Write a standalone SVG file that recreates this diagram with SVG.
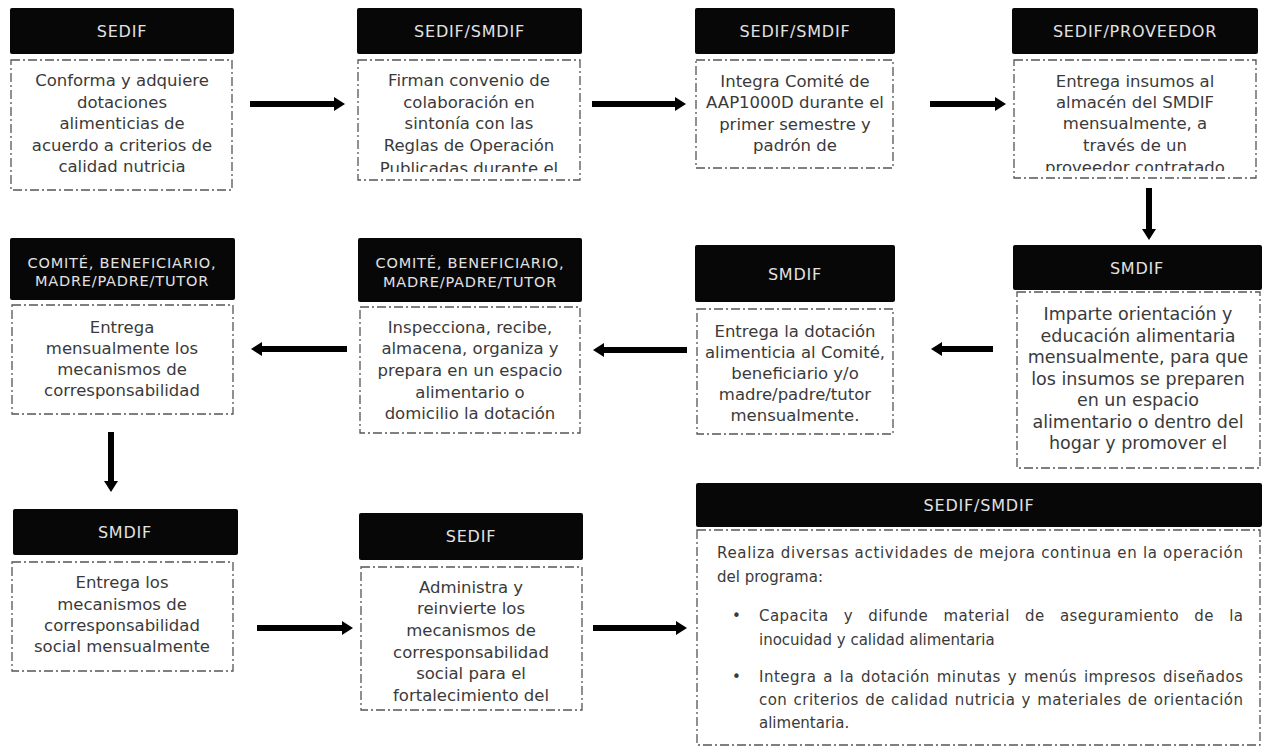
<svg xmlns="http://www.w3.org/2000/svg" width="1262" height="749" viewBox="0 0 1262 749">
<style>
.hd{fill:#070707}
.ht{fill:#e2e2e2;font-family:"DejaVu Sans",sans-serif;font-size:16px;letter-spacing:0.8px;text-anchor:middle}
.hs{fill:#e2e2e2;font-family:"DejaVu Sans",sans-serif;font-size:14.5px;letter-spacing:0.8px;text-anchor:middle}
.bd{fill:#ffffff;stroke:#555;stroke-width:1.3;stroke-dasharray:9 3 2 3}
.tx{fill:#3a3a3a;font-family:"DejaVu Sans",sans-serif;font-size:16.5px;text-anchor:middle}
.tb{fill:#3a3a3a;font-family:"DejaVu Sans",sans-serif;font-size:17.5px;text-anchor:middle}
.tl{fill:#3a3a3a;font-family:"DejaVu Sans",sans-serif;font-size:15px}
.ar{stroke:#000;stroke-width:6;fill:none}
</style>
<defs>
<marker id="ah" markerUnits="userSpaceOnUse" markerWidth="11" markerHeight="14" viewBox="0 0 11 14" refX="1" refY="7" orient="auto">
<path d="M0,0 L11,7 L0,14 Z" fill="#000"/>
</marker>
<clipPath id="c2"><rect x="358" y="60" width="222" height="112"/></clipPath>
<clipPath id="c4"><rect x="1014" y="60" width="242" height="111"/></clipPath>
</defs>
<rect width="1262" height="749" fill="#ffffff"/>

<g id="connectors">
<line class="ar" x1="250" y1="104" x2="335" y2="104" marker-end="url(#ah)"/>
<line class="ar" x1="592" y1="104" x2="676" y2="104" marker-end="url(#ah)"/>
<line class="ar" x1="930" y1="104" x2="996" y2="104" marker-end="url(#ah)"/>
<line class="ar" x1="1149" y1="188" x2="1149" y2="230" marker-end="url(#ah)"/>
<line class="ar" x1="993" y1="349" x2="941" y2="349" marker-end="url(#ah)"/>
<line class="ar" x1="687" y1="350" x2="603" y2="350" marker-end="url(#ah)"/>
<line class="ar" x1="347" y1="349" x2="261" y2="349" marker-end="url(#ah)"/>
<line class="ar" x1="111" y1="432" x2="111" y2="482" marker-end="url(#ah)"/>
<line class="ar" x1="257" y1="628" x2="343" y2="628" marker-end="url(#ah)"/>
<line class="ar" x1="593" y1="628" x2="677" y2="628" marker-end="url(#ah)"/>
</g>

<g id="n1">
<rect class="hd" x="10" y="8" width="224" height="46" rx="2"/>
<text class="ht" x="122" y="37">SEDIF</text>
<rect class="bd" x="11" y="60" width="221" height="130"/>
<text class="tx" x="122" y="86">Conforma y adquiere</text>
<text class="tx" x="122" y="108">dotaciones</text>
<text class="tx" x="122" y="129">alimenticias de</text>
<text class="tx" x="122" y="151">acuerdo a criterios de</text>
<text class="tx" x="122" y="172">calidad nutricia</text>
</g>

<g id="n2">
<rect class="hd" x="357" y="8" width="225" height="46" rx="2"/>
<text class="ht" x="469.5" y="37">SEDIF/SMDIF</text>
<rect class="bd" x="358" y="60" width="222" height="120"/>
<text class="tx" x="469" y="86">Firman convenio de</text>
<text class="tx" x="469" y="108">colaboración en</text>
<text class="tx" x="469" y="129">sintonía con las</text>
<text class="tx" x="469" y="151">Reglas de Operación</text>
<text class="tx" x="469" y="174" clip-path="url(#c2)">Publicadas durante el</text>
</g>

<g id="n3">
<rect class="hd" x="695" y="8" width="200" height="46" rx="2"/>
<text class="ht" x="795" y="37">SEDIF/SMDIF</text>
<rect class="bd" x="696" y="60" width="197" height="108"/>
<text class="tx" x="795" y="87">Integra Comité de</text>
<text class="tx" x="795" y="108">AAP1000D durante el</text>
<text class="tx" x="795" y="130">primer semestre y</text>
<text class="tx" x="795" y="151">padrón de</text>
</g>

<g id="n4">
<rect class="hd" x="1012" y="8" width="246" height="46" rx="2"/>
<text class="ht" x="1135" y="37">SEDIF/PROVEEDOR</text>
<rect class="bd" x="1014" y="60" width="242" height="118"/>
<text class="tx" x="1135" y="87">Entrega insumos al</text>
<text class="tx" x="1135" y="108">almacén del SMDIF</text>
<text class="tx" x="1135" y="129">mensualmente, a</text>
<text class="tx" x="1135" y="151">través de un</text>
<text class="tx" x="1135" y="173" clip-path="url(#c4)">proveedor contratado</text>
</g>

<g id="n5">
<rect class="hd" x="1013" y="245" width="249" height="45" rx="2"/>
<text class="ht" x="1137" y="274">SMDIF</text>
<rect class="bd" x="1017" y="292" width="243" height="176"/>
<text class="tb" x="1138" y="320">Imparte orientación y</text>
<text class="tb" x="1138" y="341.5">educación alimentaria</text>
<text class="tb" x="1138" y="363">mensualmente, para que</text>
<text class="tb" x="1138" y="384.5">los insumos se preparen</text>
<text class="tb" x="1138" y="406">en un espacio</text>
<text class="tb" x="1138" y="427.5">alimentario o dentro del</text>
<text class="tb" x="1138" y="449">hogar y promover el</text>
</g>

<g id="n6">
<rect class="hd" x="695" y="245" width="200" height="57" rx="2"/>
<text class="ht" x="795" y="280">SMDIF</text>
<rect class="bd" x="697" y="309" width="196" height="125"/>
<text class="tx" x="795" y="337">Entrega la dotación</text>
<text class="tx" x="795" y="358">alimenticia al Comité,</text>
<text class="tx" x="795" y="379">beneficiario y/o</text>
<text class="tx" x="795" y="400">madre/padre/tutor</text>
<text class="tx" x="795" y="421">mensualmente.</text>
</g>

<g id="n7">
<rect class="hd" x="358" y="238" width="224" height="64" rx="2"/>
<text class="hs" x="470" y="268">COMITÉ, BENEFICIARIO,</text>
<text class="hs" x="470" y="287">MADRE/PADRE/TUTOR</text>
<rect class="bd" x="360" y="307" width="220" height="126"/>
<text class="tx" x="470" y="333">Inspecciona, recibe,</text>
<text class="tx" x="470" y="354">almacena, organiza y</text>
<text class="tx" x="470" y="376">prepara en un espacio</text>
<text class="tx" x="470" y="398">alimentario o</text>
<text class="tx" x="470" y="419">domicilio la dotación</text>
</g>

<g id="n8">
<rect class="hd" x="10" y="238" width="225" height="62" rx="2"/>
<text class="hs" x="122" y="268">COMITÉ, BENEFICIARIO,</text>
<text class="hs" x="122" y="286">MADRE/PADRE/TUTOR</text>
<rect class="bd" x="12" y="305" width="221" height="109"/>
<text class="tx" x="122" y="333">Entrega</text>
<text class="tx" x="122" y="354">mensualmente los</text>
<text class="tx" x="122" y="375">mecanismos de</text>
<text class="tx" x="122" y="396">corresponsabilidad</text>
</g>

<g id="n9">
<rect class="hd" x="13" y="509" width="225" height="46" rx="2"/>
<text class="ht" x="125" y="538">SMDIF</text>
<rect class="bd" x="12" y="562" width="221" height="109"/>
<text class="tx" x="122" y="588">Entrega los</text>
<text class="tx" x="122" y="610">mecanismos de</text>
<text class="tx" x="122" y="631">corresponsabilidad</text>
<text class="tx" x="122" y="652">social mensualmente</text>
</g>

<g id="n10">
<rect class="hd" x="359" y="513" width="224" height="47" rx="2"/>
<text class="ht" x="471" y="542">SEDIF</text>
<rect class="bd" x="361" y="567" width="221" height="143"/>
<text class="tx" x="471" y="593">Administra y</text>
<text class="tx" x="471" y="614">reinvierte los</text>
<text class="tx" x="471" y="636">mecanismos de</text>
<text class="tx" x="471" y="658">corresponsabilidad</text>
<text class="tx" x="471" y="679">social para el</text>
<text class="tx" x="471" y="701">fortalecimiento del</text>
</g>

<g id="n11">
<rect class="hd" x="696" y="483" width="566" height="44" rx="2"/>
<text class="ht" x="979" y="511">SEDIF/SMDIF</text>
<rect class="bd" x="697" y="530" width="563" height="215"/>
<text class="tl" x="717" y="558" textLength="526" lengthAdjust="spacing">Realiza diversas actividades de mejora continua en la operación</text>
<text class="tl" x="717" y="582">del programa:</text>
<text class="tl" x="732" y="621">•</text>
<text class="tl" x="759" y="621" word-spacing="10" textLength="484" lengthAdjust="spacing">Capacita y difunde material de aseguramiento de la</text>
<text class="tl" x="759" y="645">inocuidad y calidad alimentaria</text>
<text class="tl" x="732" y="682">•</text>
<text class="tl" x="759" y="682" word-spacing="1.5" textLength="484" lengthAdjust="spacing">Integra a la dotación minutas y menús impresos diseñados</text>
<text class="tl" x="759" y="705" word-spacing="1" textLength="484" lengthAdjust="spacing">con criterios de calidad nutricia y materiales de orientación</text>
<text class="tl" x="759" y="728">alimentaria.</text>
</g>
</svg>
